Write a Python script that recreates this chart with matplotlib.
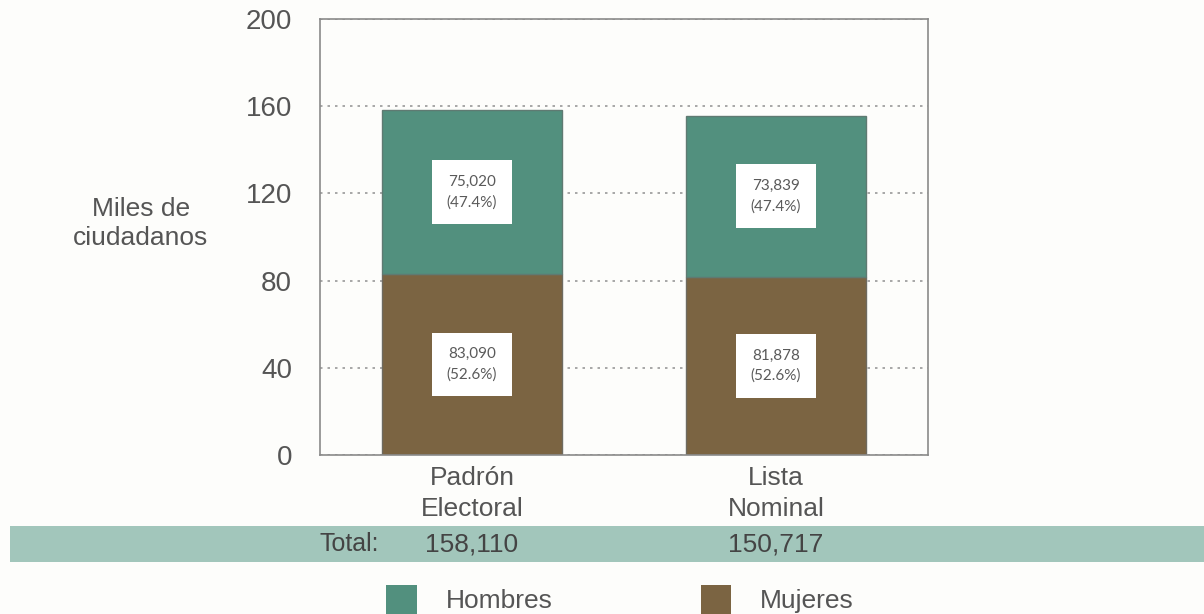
import numpy as np
import matplotlib.pyplot as plt
from matplotlib.patches import Rectangle, Patch

categorias = ['Padrón\nElectoral', 'Lista\nNominal']
mujeres = [83.090, 81.878]
hombres = [75.020, 73.839]
etq_mujeres = ['83,090\n(52.6%)', '81,878\n(52.6%)']
etq_hombres = ['75,020\n(47.4%)', '73,839\n(47.4%)']
totales = ['158,110', '150,717']
yticks = [0, 40, 80, 120, 160, 200]

teal = '#52907e'
cafe = '#7b6442'
gris = '#555555'

plt.rcParams['font.family'] = ['Liberation Sans', 'DejaVu Sans']

fig = plt.figure(figsize=(12.04, 6.14), dpi=100)
fig.patch.set_facecolor('#fdfdfb')
ax = fig.add_axes([0.2658, 0.259, 0.505, 0.710])
ax.set_facecolor('#fdfdfb')

x = np.arange(len(categorias))
w = 0.59
ax.bar(x, mujeres, w, color=cafe, edgecolor='#6e6a60', linewidth=1, zorder=2)
ax.bar(x, hombres, w, bottom=mujeres, color=teal, edgecolor='#5f7a72', linewidth=1, zorder=2)

for i in range(len(x)):
    for yc, t in [(mujeres[i] / 2, etq_mujeres[i]), (mujeres[i] + hombres[i] / 2, etq_hombres[i])]:
        ax.text(x[i], yc, t, ha='center', va='center', fontsize=11, color='#5a5a5a',
                family=['Lato', 'DejaVu Sans'], linespacing=1.55, zorder=3,
                bbox=dict(boxstyle='square,pad=0.95', fc='white', ec='none'))

ax.set_xlim(-0.5, 1.5)
ax.set_ylim(0, 200)
ax.set_yticks(yticks)
ax.set_xticks(x)
ax.set_xticklabels(categorias, fontsize=19, color=gris, linespacing=1.35)
ax.tick_params(axis='y', length=0, pad=20, labelsize=20, labelcolor=gris)
ax.tick_params(axis='x', length=0, pad=8)
for s in ax.spines.values():
    s.set_color('#8a8a8a')
    s.set_linewidth(1.2)
ax.yaxis.grid(True, linestyle=(0, (1.5, 3)), color='#999999', linewidth=1.2, zorder=0)
ax.set_axisbelow(True)

fig.text(0.117, 0.636, 'Miles de\nciudadanos', ha='center', va='center', fontsize=19,
         color=gris, linespacing=1.3)

# banda de totales
fig.patches.append(Rectangle((0.008, 0.0847), 0.992, 0.058, transform=fig.transFigure,
                             facecolor='#a2c6bb', edgecolor='none', zorder=0))
yb = 0.0847 + 0.058 / 2
fig.text(0.29, yb, 'Total:', ha='center', va='center', fontsize=18, color='#444444')
for i, t in enumerate(totales):
    xf = ax.transAxes.inverted().transform(ax.transData.transform((x[i], 0)))[0]
    xf = 0.2658 + 0.505 * xf
    fig.text(xf, yb, t, ha='center', va='center', fontsize=19, color='#444444')

handles = [Patch(facecolor=teal, label='Hombres'), Patch(facecolor=cafe, label='Mujeres')]
fig.legend(handles=handles, loc='center', bbox_to_anchor=(0.515, 0.024), ncol=2,
           frameon=False, fontsize=19, handlelength=1.15, handleheight=1.3,
           columnspacing=5.6, handletextpad=1.1, labelcolor=gris)

fig.savefig('out.png', dpi=100, facecolor=fig.get_facecolor())
